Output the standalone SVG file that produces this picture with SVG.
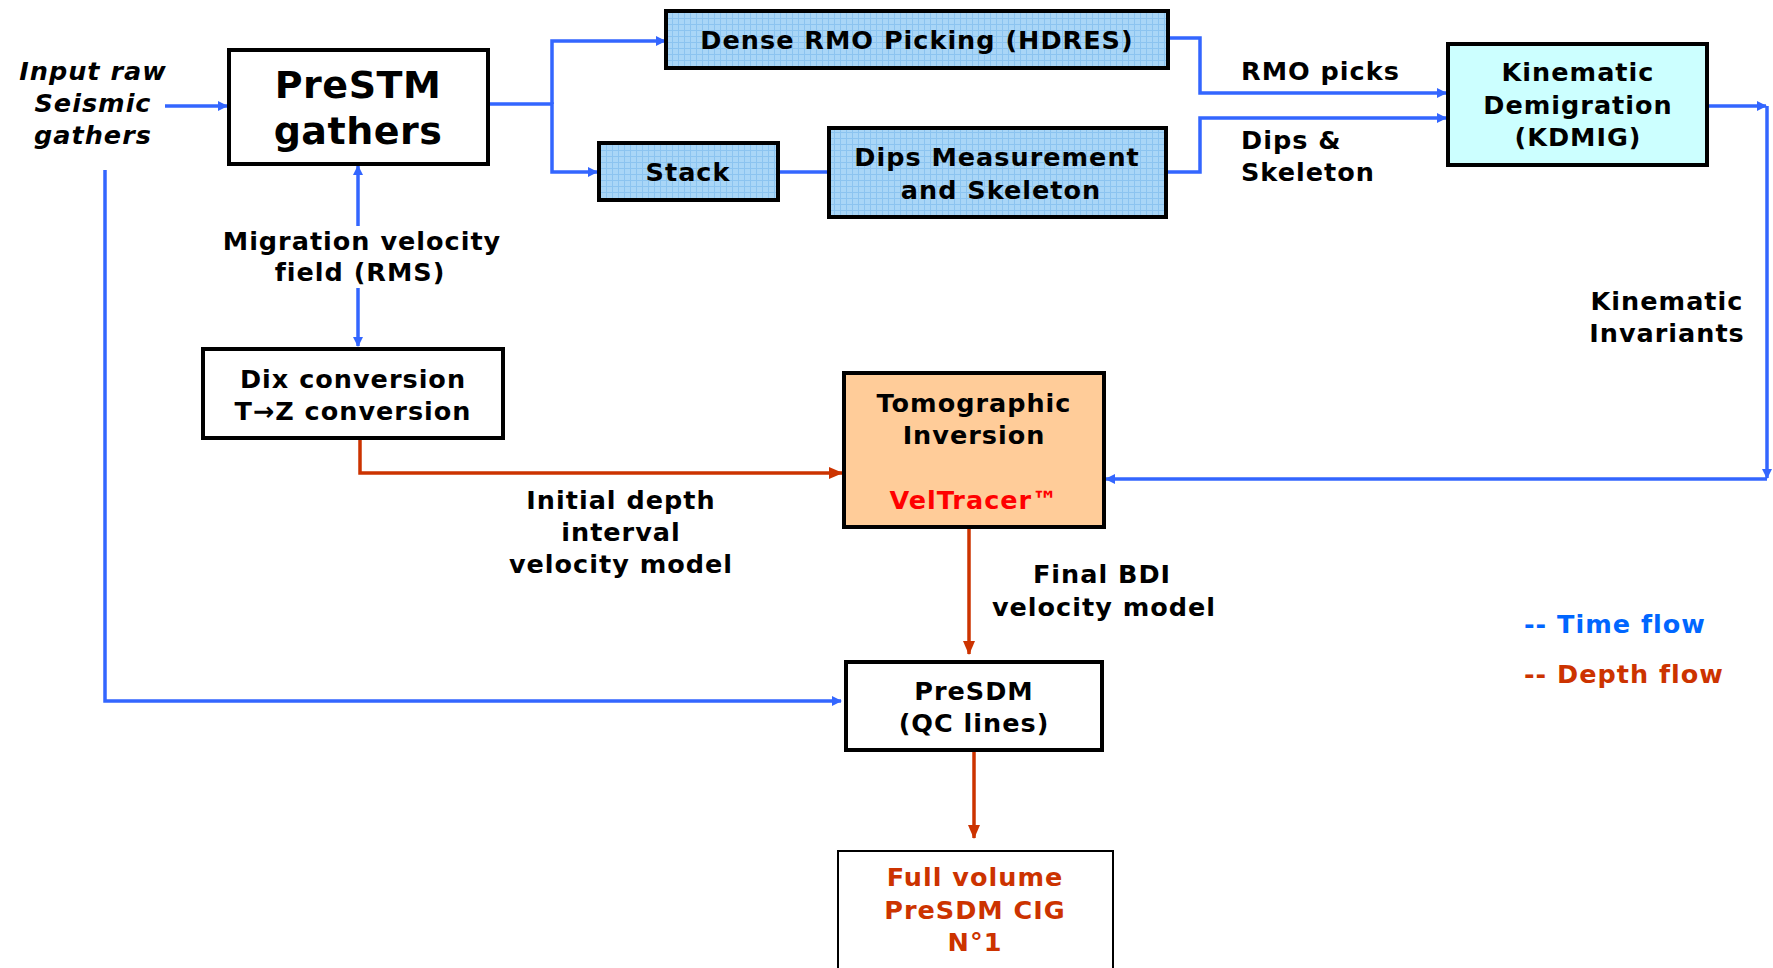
<svg xmlns="http://www.w3.org/2000/svg" width="1773" height="968" viewBox="0 0 1773 968">
<style>
text{font-family:"DejaVu Sans","Verdana",sans-serif;font-weight:bold;fill:#000;text-anchor:middle}
.t{font-size:25.5px;letter-spacing:1px}
.big{font-size:38px;letter-spacing:0.5px}
.it{font-style:italic}
.box{fill:#fff;stroke:#000;stroke-width:4}
.grid{fill:url(#grid);stroke:#000;stroke-width:4}
.b{fill:none;stroke:#3366FF;stroke-width:3.5}
.r{fill:none;stroke:#CC3300;stroke-width:3.5}
.red{fill:#CC3300}
</style>
<defs>
<pattern id="grid" width="12" height="12" patternUnits="userSpaceOnUse">
<rect width="12" height="12" fill="#A9D6F7"/>
<path d="M0 0.5H12M0 6.5H12M0.5 0V12M6.5 0V12" stroke="#8CC4F0" stroke-width="1"/>
</pattern>
<marker id="ab" markerWidth="10" markerHeight="10" refX="9" refY="5" orient="auto" markerUnits="userSpaceOnUse">
<path d="M0 0L10 5L0 10Z" fill="#3366FF"/>
</marker>
<marker id="ar" markerWidth="14" markerHeight="12" refX="13" refY="6" orient="auto" markerUnits="userSpaceOnUse">
<path d="M0 0L14 6L0 12Z" fill="#CC3300"/>
</marker>
</defs>

<g id="connectors">
<path class="b" d="M165 106H227" marker-end="url(#ab)"/>
<path class="b" d="M105 170V701H841" marker-end="url(#ab)"/>
<path class="b" d="M488 104H552V172H597" marker-end="url(#ab)"/>
<path class="b" d="M552 104V41H665" marker-end="url(#ab)"/>
<path class="b" d="M778 172H829"/>
<path class="b" d="M1168 38H1200V93H1446" marker-end="url(#ab)"/>
<path class="b" d="M1166 172H1200V118H1446" marker-end="url(#ab)"/>
<path class="b" d="M1707 106H1766" marker-end="url(#ab)"/>
<path class="b" d="M1767 106V478" marker-end="url(#ab)"/>
<path class="b" d="M1767 479H1106" marker-end="url(#ab)"/>
<path class="b" d="M358 226V166" marker-end="url(#ab)"/>
<path class="b" d="M358 288V346" marker-end="url(#ab)"/>
<path class="r" d="M360 439V473H842" marker-end="url(#ar)"/>
<path class="r" d="M969 528V654" marker-end="url(#ar)"/>
<path class="r" d="M974 751V838" marker-end="url(#ar)"/>
</g>

<g id="input">
<text class="t it" x="93" y="80">Input raw</text>
<text class="t it" x="93" y="112">Seismic</text>
<text class="t it" x="93" y="144">gathers</text>
</g>

<g id="prestm">
<rect class="box" x="229" y="50" width="259" height="114"/>
<text class="big" x="358" y="98">PreSTM</text>
<text class="big" x="358" y="144">gathers</text>
</g>

<g id="dense-rmo">
<rect class="grid" x="666" y="11" width="502" height="57"/>
<text class="t" x="917" y="49">Dense RMO Picking (HDRES)</text>
</g>

<g id="stack">
<rect class="grid" x="599" y="143" width="179" height="57"/>
<text class="t" x="688" y="181">Stack</text>
</g>

<g id="dips">
<rect class="grid" x="829" y="128" width="337" height="89"/>
<text class="t" x="997" y="166">Dips Measurement</text>
<text class="t" x="1001" y="199">and Skeleton</text>
</g>

<g id="labels-top">
<text class="t" x="1241" y="80" style="text-anchor:start">RMO picks</text>
<text class="t" x="1241" y="149" style="text-anchor:start">Dips &amp;</text>
<text class="t" x="1241" y="181" style="text-anchor:start">Skeleton</text>
</g>

<g id="kdmig">
<rect class="box" x="1448" y="44" width="259" height="121" style="fill:#CCFFFF"/>
<text class="t" x="1578" y="81">Kinematic</text>
<text class="t" x="1578" y="114">Demigration</text>
<text class="t" x="1578" y="146">(KDMIG)</text>
</g>

<g id="kin-inv">
<text class="t" x="1667" y="310">Kinematic</text>
<text class="t" x="1667" y="342">Invariants</text>
</g>

<g id="mig-vel">
<text class="t" x="362" y="250">Migration velocity</text>
<text class="t" x="360" y="281">field (RMS)</text>
</g>

<g id="dix">
<rect class="box" x="203" y="349" width="300" height="89"/>
<text class="t" x="353" y="388">Dix conversion</text>
<text class="t" x="353" y="420">T→Z conversion</text>
</g>

<g id="init-depth">
<text class="t" x="621" y="509">Initial depth</text>
<text class="t" x="621" y="541">interval</text>
<text class="t" x="621" y="573">velocity model</text>
</g>

<g id="tomo">
<rect class="box" x="844" y="373" width="260" height="154" style="fill:#FFCC99"/>
<text class="t" x="974" y="412">Tomographic</text>
<text class="t" x="974" y="444">Inversion</text>
<text class="t" x="974" y="509" style="fill:#FF0000">VelTracer™</text>
</g>

<g id="final-bdi">
<text class="t" x="1102" y="583">Final BDI</text>
<text class="t" x="1104" y="616">velocity model</text>
</g>

<g id="presdm">
<rect class="box" x="846" y="662" width="256" height="88"/>
<text class="t" x="974" y="700">PreSDM</text>
<text class="t" x="974" y="732">(QC lines)</text>
</g>

<g id="full-volume">
<rect x="838" y="851" width="275" height="120" style="fill:#fff;stroke:#000;stroke-width:2"/>
<text class="t red" x="975" y="886">Full volume</text>
<text class="t red" x="975" y="919">PreSDM CIG</text>
<text class="t red" x="975" y="951">N°1</text>
</g>

<g id="legend">
<text class="t" x="1524" y="633" style="text-anchor:start;fill:#0066FF">-- Time flow</text>
<text class="t" x="1524" y="683" style="text-anchor:start;fill:#CC3300">-- Depth flow</text>
</g>
</svg>
